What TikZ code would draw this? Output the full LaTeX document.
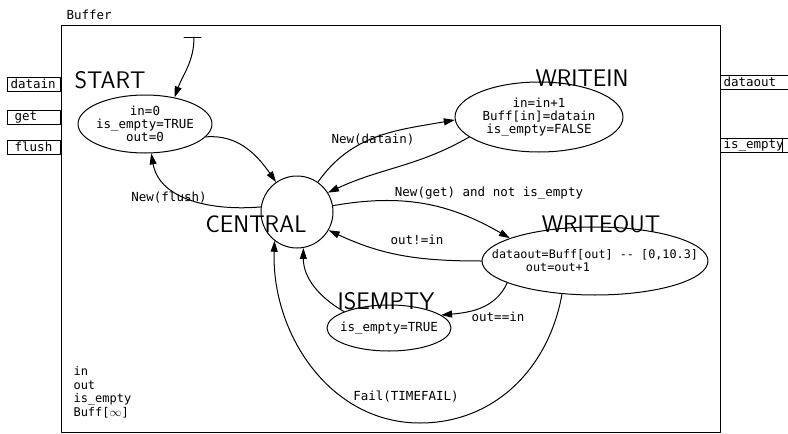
\documentclass[tikz,border=0pt]{standalone}
\usepackage{fontspec}
\usepackage{tikz}
\usetikzlibrary{arrows.meta,shapes.geometric}
\newfontfamily\monofont{DejaVu Sans Mono}

\begin{document}
\begin{tikzpicture}[
			x=1pt, y=-1pt,
			every node/.style={font=\monofont\fontsize{12.5}{13}\selectfont},
			state/.style={draw, ellipse, inner sep=0pt, align=center, line width=1pt},
			statename/.style={font=\sffamily\fontsize{24}{26}\selectfont},
			port/.style={draw, line width=1pt, minimum height=14pt, inner ysep=0pt, inner xsep=3pt, align=left, anchor=west},
			trans/.style={-{Triangle[length=11pt,width=7pt]}, line width=1pt},
			line cap=round,
			line join=round
			]
			\useasboundingbox (0,0) rectangle (788,434);
			
			% the buffer block and its ports
			\node[anchor=west] (bufname) at (63,15) {Buffer};
			\draw[line width=1pt] (61,25) rectangle (720,432);
			
			\node[port, text width=47pt] (datain) at (7,84) {datain};
			\node[port, text width=47pt] (get) at (7,117) {\ get};
			\node[port, text width=47pt] (flush) at (7,147) {\ flush};
			\node[port, text width=70pt] (dataout) at (720,82) {dataout};
			\node[port, text width=56pt] (isempty-out) at (720,145) {is\_empty};
			\node[port, text width=4pt] (isempty-end) at (782,145) {};
			
			% states
			\node[state, minimum width=134pt, minimum height=58pt, inner xsep=-3pt] (start) at (145,124) {in=0\\is\_empty=TRUE\\out=0};
			\node[statename] (start-name) at (110,80) {START};
			
			\node[draw, circle, minimum size=72pt, line width=1pt] (central) at (297,212) {};
			\node[statename] (central-name) at (256,224) {CENTRAL};
			
			\node[state, minimum width=168pt, minimum height=70pt] (writein) at (539,117) {in=in+1\\Buff[in]=datain\\is\_empty=FALSE};
			\node[statename] (writein-name) at (582,78) {WRITEIN};
			
			\node[state, minimum width=226pt, minimum height=68pt, inner xsep=-27pt, align=left, font=\monofont\fontsize{11.8}{13}\selectfont] (writeout) at (595,261) {dataout=Buff[out] -- [0,10.3]\\\hspace*{34pt}out=out+1};
			\node[statename] (writeout-name) at (601,224) {WRITEOUT};
			
			\node[state, minimum width=124pt, minimum height=46pt, inner xsep=-6pt] (isempty) at (389,328) {is\_empty=TRUE};
			\node[statename] (isempty-name) at (386,301) {ISEMPTY};
			
			% initial marker
			\coordinate (init) at (194,37);
			\draw[line width=1pt] ([xshift=-10pt]init) -- ([xshift=7pt]init);
			\draw[trans] (init) to[out=-90, in=70] (start.42);
			
			% transitions
			\draw[trans] (start.-12) to[out=5, in=125] (central.125);
			\draw[trans] (central.172) to[out=185, in=-80] (start.-78);
			\node (lbl-flush) at (169,198) {New(flush)};
			
			\draw[trans] (central.55) to[out=55, in=190] (writein.182);
			\node (lbl-datain) at (373,140) {New(datain)};
			\draw[trans] (writein.196) to[out=210, in=25] (central.32);
			
			\draw[trans] (central.10) to[out=10, in=150] (writeout.165);
			\node (lbl-get) at (489,193) {New(get) and not is\_empty};
			
			\draw[trans] (writeout.180) to[out=180, in=-25] (central.-30);
			\node (lbl-neq) at (417,240) {out!=in};
			
			\draw[trans] (writeout.-166) to[out=-115, in=5] (isempty.14);
			\node (lbl-eq) at (498,317) {out==in};
			
			\draw[trans] (isempty.160) to[out=150, in=-90] (central.-80);
			
			\coordinate (failbottom) at (420,423);
			\draw[trans] (writeout.-135) to[out=-100, in=0] (failbottom) to[out=180, in=-92] (central.-128);
			\node (lbl-fail) at (406,397) {Fail(TIMEFAIL)};
			
			% variables
			\node[align=left, anchor=north west, font=\monofont\fontsize{12}{13.6}\selectfont] (vars) at (70,363) {in\\out\\is\_empty\\Buff[$\infty$]};
		\end{tikzpicture}
\end{document}
